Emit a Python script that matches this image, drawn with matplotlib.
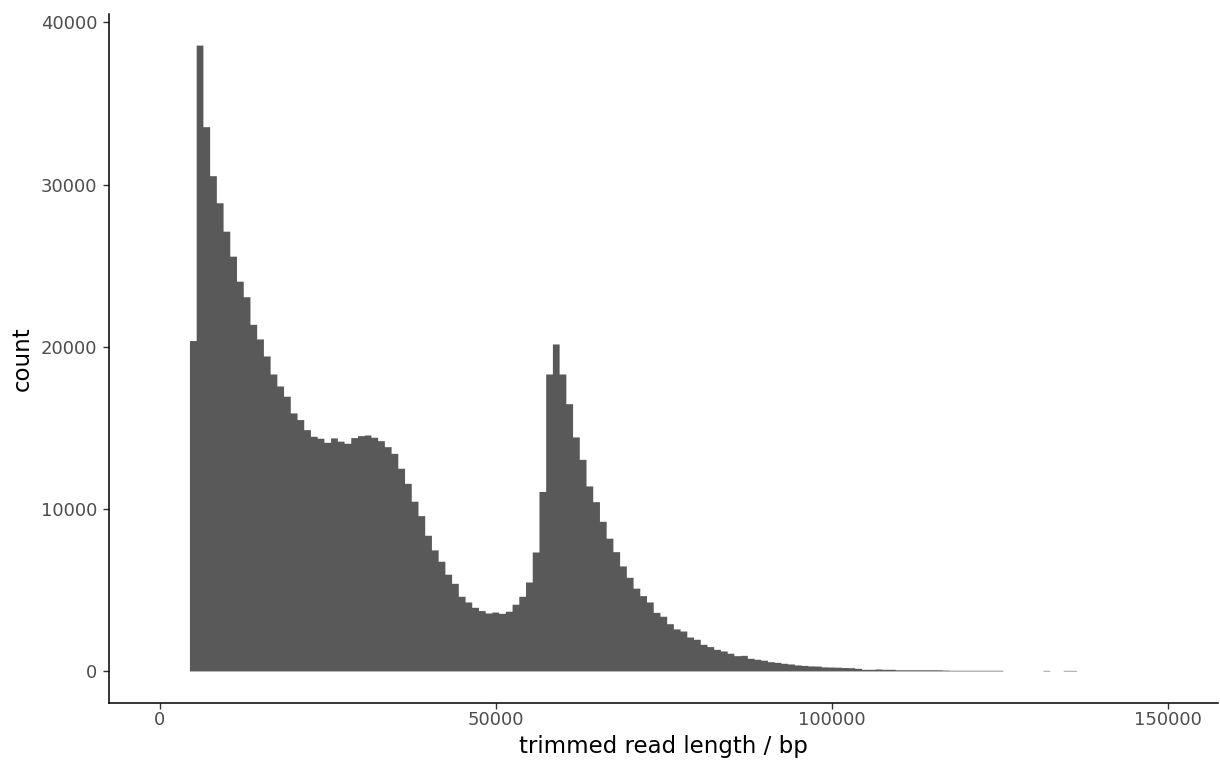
import numpy as np
import matplotlib
matplotlib.use("Agg")
import matplotlib.pyplot as plt

# Histogram of trimmed read lengths, 1 kb bins centred on whole kilobases
bin_width = 1000
first_bin_center = 5000
counts = [
    20360, 38570, 33540, 30520, 28850, 27100, 25560, 24020, 23060, 21360,   # 5-14 kb
    20460, 19410, 18300, 17560, 16930, 15900, 15490, 14870, 14460, 14340,   # 15-24 kb
    14090, 14360, 14160, 14030, 14380, 14500, 14540, 14400, 14190, 13820,   # 25-34 kb
    13410, 12490, 11560, 10460, 9570, 8360, 7460, 6760, 5960, 5400,         # 35-44 kb
    4600, 4250, 3920, 3720, 3570, 3630, 3550, 3680, 4110, 4600,             # 45-54 kb
    5480, 7330, 11060, 18300, 20150, 18300, 16470, 14420, 13040, 11400,     # 55-64 kb
    10430, 9220, 8180, 7350, 6470, 5770, 5100, 4640, 4250, 3610,            # 65-74 kb
    3370, 2910, 2590, 2460, 2090, 1950, 1640, 1500, 1330, 1230,             # 75-84 kb
    1090, 940, 960, 780, 720, 660, 570, 530, 470, 430,                      # 85-94 kb
    370, 340, 310, 300, 250, 240, 230, 210, 200, 160,                       # 95-104 kb
    100, 100, 120, 100, 100, 70, 70, 70, 70, 70,                            # 105-114 kb
    70, 70, 55, 40, 40, 40, 40, 40, 40, 40,                                 # 115-124 kb
    40, 0, 0, 0, 0, 0, 0, 35, 0, 0,                                         # 125-134 kb
    35, 35,                                                                 # 135-136 kb
]
x_ticks = [0, 50000, 100000, 150000]
y_ticks = [0, 10000, 20000, 30000, 40000]
x_label = "trimmed read length / bp"
y_label = "count"

counts = np.asarray(counts, dtype=float)
edges = first_bin_center - bin_width / 2 + bin_width * np.arange(len(counts) + 1)

fig = plt.figure(figsize=(12.2, 7.63), dpi=100)
ax = fig.add_axes([0.0896, 0.079, 0.909, 0.9023])

hist = ax.stairs(counts, edges, fill=True, color="#595959", linewidth=0)
# keep fractional pixel heights so the thin tail bins still show
hist.set_snap(False)

ymax = counts.max()
ax.set_xlim(-7500, 157500)
ax.set_ylim(-0.05 * ymax, 1.05 * ymax)
ax.set_xticks(x_ticks)
ax.set_yticks(y_ticks)
ax.set_xticklabels([str(t) for t in x_ticks])
ax.set_yticklabels([str(t) for t in y_ticks])

for side in ("top", "right"):
    ax.spines[side].set_visible(False)
for side in ("left", "bottom"):
    ax.spines[side].set_linewidth(1.1)
    ax.spines[side].set_color("black")

ax.tick_params(axis="both", length=4.2, width=1.0, color="#333333",
               labelcolor="#4D4D4D", labelsize=13)
ax.tick_params(axis="x", pad=2)
ax.tick_params(axis="y", pad=4.5)

ax.set_xlabel(x_label, fontsize=16.5, color="black", labelpad=4)
ax.set_ylabel(y_label, fontsize=16.5, color="black", labelpad=5)

fig.savefig("out.png", dpi=100)
